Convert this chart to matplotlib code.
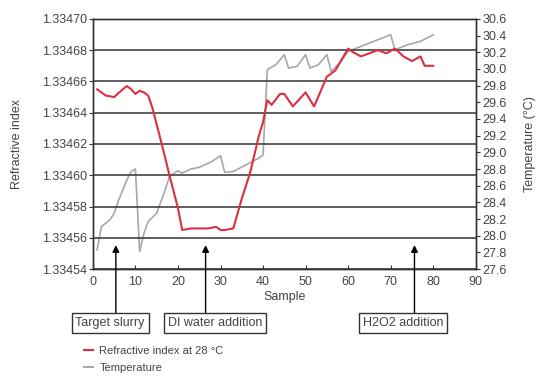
import matplotlib.pyplot as plt
import matplotlib.transforms as mtransforms

plt.rcParams['font.family'] = ['Liberation Sans', 'DejaVu Sans']

# refractive index at 28 C
ri_sample = [1, 3, 5, 7, 8, 9, 10, 11, 12, 13, 14, 16, 18, 20, 21, 23, 25, 27, 29, 30,
             31, 33, 35, 37, 39, 40, 41, 42, 44, 45, 47, 50, 52, 55, 57, 60, 61, 63, 65,
             67, 69, 71, 73, 75, 77, 78, 80]
ri_value = [1.334655, 1.334651, 1.334650, 1.334655, 1.334657, 1.334655, 1.334652,
            1.334654, 1.334653, 1.334651, 1.334643, 1.334622, 1.334600, 1.334579,
            1.334565, 1.334566, 1.334566, 1.334566, 1.334567, 1.334565, 1.334565,
            1.334566, 1.334585, 1.334602, 1.334625, 1.334634, 1.334648, 1.334645,
            1.334652, 1.334652, 1.334644, 1.334653, 1.334644, 1.334663, 1.334667,
            1.334681, 1.334679, 1.334676, 1.334678, 1.334680, 1.334678, 1.334681,
            1.334676, 1.334673, 1.334676, 1.334670, 1.334670]

# temperature
t_sample = [1, 2, 4, 5, 6, 8, 9, 10, 11, 12, 13, 15, 17, 18, 20, 21, 23, 25, 28, 30,
            31, 33, 36, 39, 40, 41, 43, 45, 46, 48, 50, 51, 53, 55, 56, 58, 60, 63, 66,
            70, 71, 74, 77, 80]
t_value = [27.83, 28.11, 28.19, 28.27, 28.42, 28.67, 28.77, 28.80, 27.81, 28.03, 28.17,
           28.27, 28.55, 28.71, 28.78, 28.75, 28.80, 28.82, 28.89, 28.96, 28.76, 28.77,
           28.85, 28.93, 28.97, 29.99, 30.05, 30.17, 30.01, 30.03, 30.17, 30.01, 30.05,
           30.17, 29.97, 30.07, 30.21, 30.27, 30.33, 30.41, 30.23, 30.29, 30.33, 30.41]

ri_ticks = [1.33454, 1.33456, 1.33458, 1.33460, 1.33462, 1.33464, 1.33466, 1.33468, 1.33470]
t_ticks = [27.6, 27.8, 28.0, 28.2, 28.4, 28.6, 28.8, 29.0, 29.2, 29.4, 29.6, 29.8,
           30.0, 30.2, 30.4, 30.6]
x_ticks = [0, 10, 20, 30, 40, 50, 60, 70, 80, 90]

events = ['Target slurry', 'DI water addition', 'H2O2 addition']
event_sample = [5.4, 26.5, 75.6]
box_x = [0.204, 0.398, 0.747]

red = '#dc2f42'
gray = '#a8a8a8'
txt = '#444444'

fig = plt.figure(figsize=(5.4, 3.85), dpi=100)
ax = fig.add_axes([0.172, 0.301, 0.709, 0.650])
ax2 = ax.twinx()

for v in ri_ticks:
    ax.axhline(v, color='#333333', lw=1.1, zorder=0)

ax.plot(ri_sample, ri_value, color=red, lw=1.5, zorder=3)
ax2.plot(t_sample, t_value, color=gray, lw=1.2, zorder=2)
ax.set_zorder(ax2.get_zorder() + 1)
ax.patch.set_visible(False)

ax.set_xlim(0, 90)
ax.set_ylim(1.33454, 1.33470)
ax2.set_ylim(27.6, 30.6)
ax.set_xticks(x_ticks)
ax.set_yticks(ri_ticks)
ax.set_yticklabels(['%.5f' % v for v in ri_ticks])
ax2.set_yticks(t_ticks)
ax2.set_yticklabels(['%.1f' % v for v in t_ticks])

for a in (ax, ax2):
    a.tick_params(labelsize=9, labelcolor=txt, length=3, width=0.8, color='#333333')
    for s in a.spines.values():
        s.set_color('#333333')
        s.set_linewidth(1.0)
ax.tick_params(axis='x', direction='in', pad=5)
ax2.tick_params(axis='y', pad=2)
ax.tick_params(axis='y', pad=1)

ax.set_xlabel('Sample', fontsize=9, color=txt, labelpad=2)
ax.set_ylabel('Refractive index', fontsize=9, color=txt, labelpad=14)
ax2.set_ylabel('Temperature (\u00b0C)', fontsize=9, color=txt, labelpad=12)

# event arrows and labels below the axis
trans = mtransforms.blended_transform_factory(ax.transData, ax.transAxes)
for name, s, bx in zip(events, event_sample, box_x):
    ax.annotate('', xy=(s, 0.096), xycoords=trans, xytext=(s, -0.176), textcoords=trans,
                arrowprops=dict(arrowstyle='-|>', color='black', lw=1.0,
                                mutation_scale=10, shrinkA=0, shrinkB=0),
                annotation_clip=False)
    fig.text(bx, 0.161, name, ha='center', va='center', fontsize=9, color=txt,
             bbox=dict(boxstyle='square,pad=0.3', fc='white', ec='#333333', lw=1.0))

fig.legend(handles=[plt.Line2D([], [], color=red, lw=1.5),
                    plt.Line2D([], [], color=gray, lw=1.5)],
           labels=['Refractive index at 28 \u00b0C', 'Temperature'],
           loc='upper left', bbox_to_anchor=(0.145, 0.117), frameon=False,
           fontsize=8, handlelength=0.8, handletextpad=0.6, labelspacing=0.65,
           labelcolor=txt, borderpad=0)

fig.savefig('out.png', dpi=100)
